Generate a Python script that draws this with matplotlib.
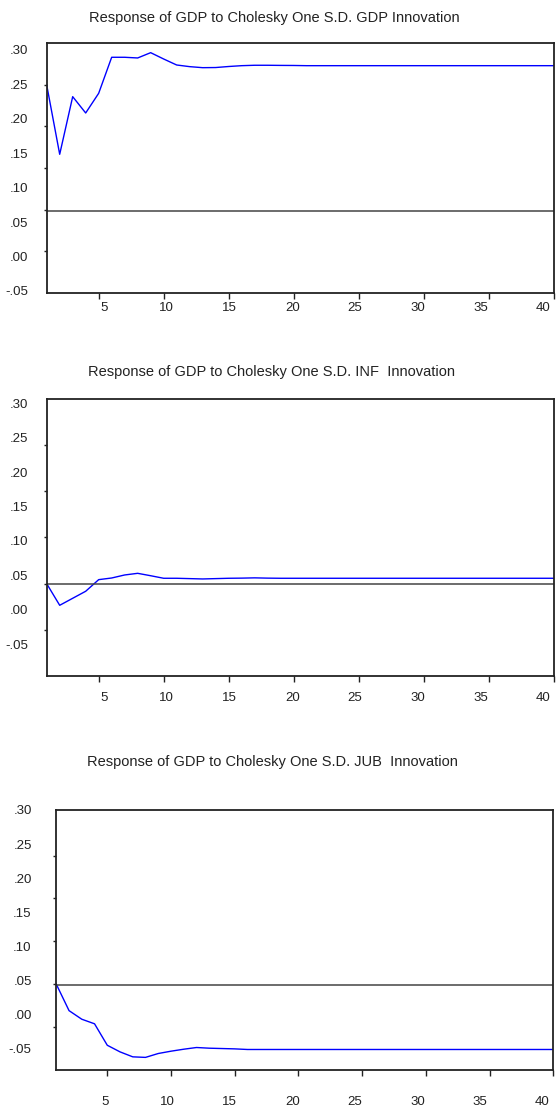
import numpy as np
import matplotlib
matplotlib.use('Agg')
import matplotlib.pyplot as plt
import matplotlib.transforms as mtransforms

plt.rcParams['font.family'] = ['Liberation Sans', 'DejaVu Sans']

# periods 1..40
periods = np.arange(1, 41)

# response of GDP to GDP shock
resp_gdp = [0.2492, 0.1485, 0.2322, 0.2085, 0.2371, 0.2894, 0.2894, 0.2884, 0.2961, 0.2869,
            0.2782, 0.2758, 0.2743, 0.2745, 0.2760, 0.2772, 0.2778, 0.2778, 0.2776, 0.2775] + [0.2772] * 20
# response of GDP to INF shock
resp_inf = [0.0377, 0.0063, 0.0165, 0.0267, 0.0436, 0.0460, 0.0504, 0.0528, 0.0493, 0.0456,
            0.0456, 0.0451, 0.0446, 0.0451, 0.0456, 0.0458, 0.0462, 0.0458] + [0.0456] * 22
# response of GDP to JUB shock
resp_jub = [0.0444, 0.0056, -0.0070, -0.0137, -0.0452, -0.0549, -0.0622, -0.0630, -0.0573, -0.0539,
            -0.0510, -0.0485, -0.0495, -0.0500, -0.0505, -0.0514, -0.0514, -0.0514] + [-0.0514] * 22

# reference (zero) lines as drawn in the picture
ref_lines = [0.0666, 0.0368, 0.0434]

titles = ['Response of GDP to Cholesky One S.D. GDP Innovation',
          'Response of GDP to Cholesky One S.D. INF  Innovation',
          'Response of GDP to Cholesky One S.D. JUB  Innovation']

ytick_vals = [0.30, 0.25, 0.20, 0.15, 0.10, 0.05, 0.00, -0.05]
ytick_labels = ['.30', '.25', '.20', '.15', '.10', '.05', '.00', '-.05']
xtick_vals = [5, 10, 15, 20, 25, 30, 35, 40]

ylims = [(-0.0525, 0.3097), (-0.0965, 0.3067), (-0.0815, 0.2961)]

W, H = 557, 1117
fig = plt.figure(figsize=(W / 100, H / 100), dpi=100)

# pixel boxes: left, right, top, bottom
boxes = [(46.7, 553.5, 43.3, 292.7), (46.7, 553.5, 398.7, 676.0), (56.3, 553.3, 810.0, 1070.0)]
title_pos = [(274, 18), (272, 372), (272, 762)]
xpads = [3.0, 7.2, 14.5]
ypads = [13.5, 13.3, 17.7]
# x tick labels in the picture drift left of their ticks (pixels)
xlab_shift = [(5.3, -2.2), (5.3, -2.2), (-2.6, -1.17)]

series = [resp_gdp, resp_inf, resp_jub]

for i in range(3):
    l, r, t, b = boxes[i]
    ax = fig.add_axes([l / W, 1 - b / H, (r - l) / W, (b - t) / H])
    ax.plot(periods, series[i], color='#0000ff', lw=1.0)
    ax.axhline(ref_lines[i], color='#444444', lw=1.1)
    ax.set_xlim(1, 40)
    ax.set_ylim(*ylims[i])
    ax.set_xticks(xtick_vals)
    ax.set_yticks(ytick_vals)
    ax.set_yticklabels(ytick_labels)
    ax.set_yticks(np.linspace(ylims[i][0], ylims[i][1], 7)[1:-1], minor=True)
    ax.tick_params(axis='x', direction='out', length=4, width=1, labelsize=9.5, pad=xpads[i], colors='#222222')
    ax.tick_params(axis='y', which='major', length=0, labelsize=9.5, pad=ypads[i], colors='#222222')
    ax.tick_params(axis='y', which='minor', direction='out', length=2, width=1, color='#222222')
    for s in ax.spines.values():
        s.set_linewidth(1.3)
        s.set_color('#222222')
    s0, step = xlab_shift[i]
    for k, lab in enumerate(ax.get_xticklabels()):
        dx = (s0 + step * k) / 100
        lab.set_transform(lab.get_transform() + mtransforms.ScaledTranslation(dx, 0, fig.dpi_scale_trans))
    fig.text(title_pos[i][0] / W, 1 - title_pos[i][1] / H, titles[i], ha='center', va='center',
             fontsize=10.5, color='#222222')

fig.savefig('out.png', dpi=100)
